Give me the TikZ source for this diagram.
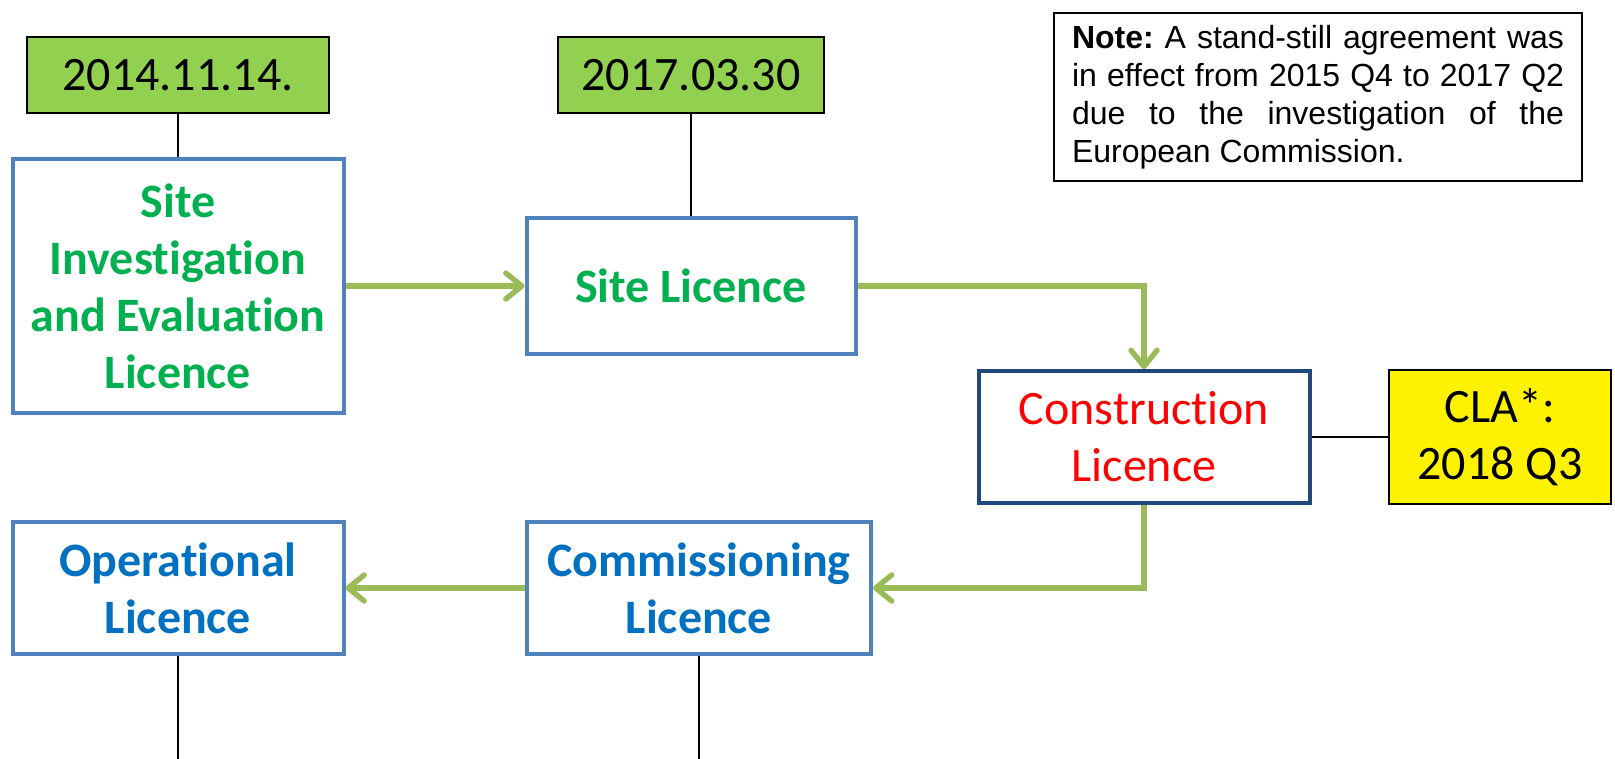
\documentclass[tikz,border=0pt]{standalone}
\usepackage{fontspec}
\setmainfont{Carlito}[Ligatures=NoCommon]
\newfontfamily\notefont{Liberation Sans}
\usetikzlibrary{arrows.meta}
\definecolor{licblue}{RGB}{79,129,189}
\definecolor{darkframe}{RGB}{31,73,125}
\definecolor{dategreen}{RGB}{146,208,80}
\definecolor{textgreen}{RGB}{0,176,80}
\definecolor{textblue}{RGB}{0,112,192}
\definecolor{flowgreen}{RGB}{155,187,89}

\begin{document}
\begin{tikzpicture}[x=0.5pt, y=-0.5pt,
    licbox/.style={rectangle, draw=#1, line width=2pt, fill=white, align=center, inner sep=2pt, font=\fontsize{24}{28.5}\selectfont},
    datebox/.style={rectangle, draw=black, line width=0.75pt, fill=#1, align=center, inner sep=2pt, minimum height=38pt, font=\fontsize{24}{28.5}\selectfont},
    flow/.style={draw=flowgreen, line width=2.7pt, -{Straight Barb[length=8pt, width=13pt, round]}},
    tie/.style={draw=black, line width=0.75pt}
]
\useasboundingbox (0,0) rectangle (1615,759);

\node[datebox=dategreen, minimum width=151pt] (d1) at (178,75) {2014.11.14.};
\node[datebox=dategreen, minimum width=133pt] (d2) at (691,75) {2017.03.30};

\node[licbox=licblue, minimum width=165.5pt, minimum height=127pt, text=textgreen, font=\fontsize{24}{28.5}\selectfont\bfseries] (siel) at (178,286) {Site\\Investigation\\and Evaluation\\Licence};
\node[licbox=licblue, minimum width=164.5pt, minimum height=67.5pt, text=textgreen, font=\fontsize{24}{28.5}\selectfont\bfseries] (site) at (691,286) {Site Licence};
\node[licbox=darkframe, minimum width=165.5pt, minimum height=66pt, text=red] (cons) at (1144,437) {Construction\\Licence};
\node[datebox=yellow, minimum width=111pt, minimum height=67pt] (cla) at (1500,437) {CLA*:\\2018 Q3};
\node[licbox=licblue, minimum width=172pt, minimum height=66pt, text=textblue, font=\fontsize{24}{28.5}\selectfont\bfseries] (comm) at (699,588) {Commissioning\\Licence};
\node[licbox=licblue, minimum width=165.5pt, minimum height=66pt, text=textblue, font=\fontsize{24}{28.5}\selectfont\bfseries] (oper) at (178,588) {Operational\\Licence};

\node[rectangle, draw=black, line width=0.6pt, minimum width=264pt, minimum height=84pt, inner xsep=9pt, text width=246pt, align=justify, font=\notefont\fontsize{16}{19}\selectfont] (note) at (1318,97) {\frenchspacing \textbf{Note:} A stand-still agreement was\linebreak in effect from 2015 Q4 to 2017 Q2\linebreak due to the investigation of the\linebreak \mbox{European} Commission.};

\coordinate (operend) at (178,759);
\coordinate (commend) at (699,759);

\draw[tie] (d1) -- (siel);
\draw[tie] (d2) -- (site);
\draw[tie] (cons) -- (cla);
\draw[tie] (oper) -- (operend);
\draw[tie] (comm) -- (commend);

\draw[flow] (siel) -- (site);
\draw[flow] (site) -| (cons);
\draw[flow] (cons) |- (comm);
\draw[flow] (comm) -- (oper);

\end{tikzpicture}
\end{document}
